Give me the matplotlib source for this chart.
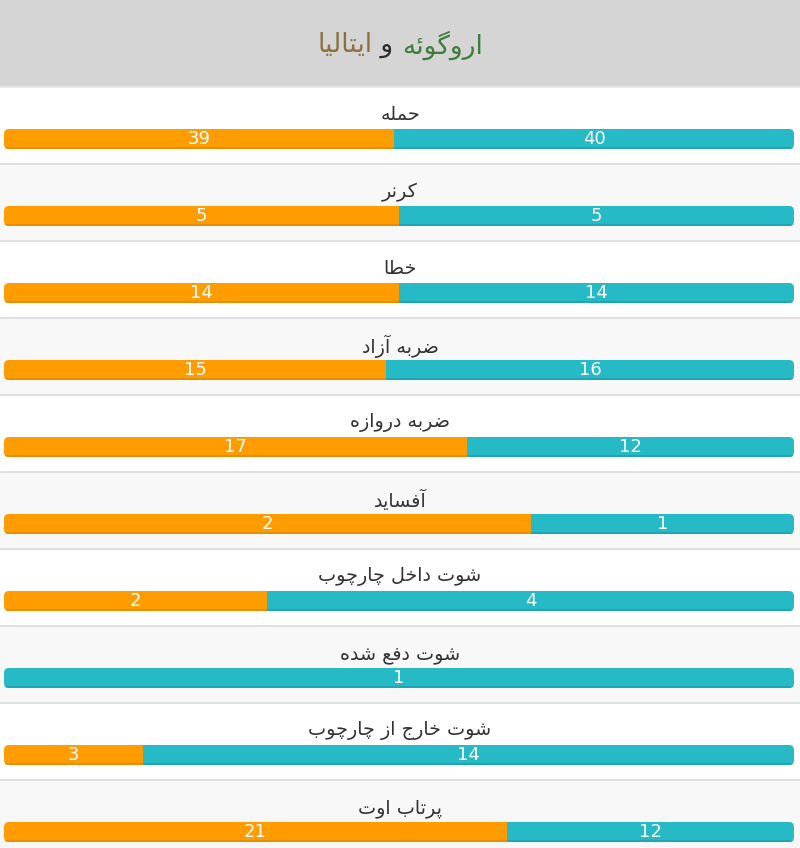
import matplotlib
matplotlib.use("Agg")
import matplotlib.pyplot as plt
from matplotlib.patches import Rectangle, FancyBboxPatch

# team names (title) and stats
team_home = "اروگوئه"
team_away = "ایتالیا"
stat_labels = ["حمله", "کرنر", "خطا", "ضربه آزاد", "ضربه دروازه", "آفساید",
               "شوت داخل چارچوب", "شوت دفع شده", "شوت خارج از چارچوب", "پرتاب اوت"]
home_values = [39, 5, 14, 15, 17, 2, 2, 0, 3, 21]
away_values = [40, 5, 14, 16, 12, 1, 4, 1, 14, 12]

HOME_COLOR = "#ff9d00"
AWAY_COLOR = "#26bac6"

# --- tiny arabic/persian shaper (no arabic_reshaper available) ---
# forms: (isolated, final, initial, medial); two entries = right-joining only
FORMS = {
    "آ": (0xFE81, 0xFE82), "ا": (0xFE8D, 0xFE8E), "د": (0xFEA9, 0xFEAA),
    "ذ": (0xFEAB, 0xFEAC), "ر": (0xFEAD, 0xFEAE), "ز": (0xFEAF, 0xFEB0),
    "و": (0xFEED, 0xFEEE), "ژ": (0xFB8A, 0xFB8B),
    "ئ": (0xFE89, 0xFE8A, 0xFE8B, 0xFE8C), "ب": (0xFE8F, 0xFE90, 0xFE91, 0xFE92),
    "ت": (0xFE95, 0xFE96, 0xFE97, 0xFE98), "ج": (0xFE9D, 0xFE9E, 0xFE9F, 0xFEA0),
    "ح": (0xFEA1, 0xFEA2, 0xFEA3, 0xFEA4), "خ": (0xFEA5, 0xFEA6, 0xFEA7, 0xFEA8),
    "س": (0xFEB1, 0xFEB2, 0xFEB3, 0xFEB4), "ش": (0xFEB5, 0xFEB6, 0xFEB7, 0xFEB8),
    "ض": (0xFEBD, 0xFEBE, 0xFEBF, 0xFEC0), "ط": (0xFEC1, 0xFEC2, 0xFEC3, 0xFEC4),
    "ع": (0xFEC9, 0xFECA, 0xFECB, 0xFECC), "ف": (0xFED1, 0xFED2, 0xFED3, 0xFED4),
    "ل": (0xFEDD, 0xFEDE, 0xFEDF, 0xFEE0), "م": (0xFEE1, 0xFEE2, 0xFEE3, 0xFEE4),
    "ن": (0xFEE5, 0xFEE6, 0xFEE7, 0xFEE8), "ه": (0xFEE9, 0xFEEA, 0xFEEB, 0xFEEC),
    "پ": (0xFB56, 0xFB57, 0xFB58, 0xFB59), "چ": (0xFB7A, 0xFB7B, 0xFB7C, 0xFB7D),
    "ک": (0xFB8E, 0xFB8F, 0xFB90, 0xFB91), "گ": (0xFB92, 0xFB93, 0xFB94, 0xFB95),
    "ی": (0xFBFC, 0xFBFD, 0xFBFE, 0xFBFF),
}


def shape(text):
    out = []
    for i, ch in enumerate(text):
        if ch not in FORMS:
            out.append(ch)
            continue
        prev = text[i - 1] if i > 0 else None
        nxt = text[i + 1] if i + 1 < len(text) else None
        joins_prev = prev in FORMS and len(FORMS[prev]) == 4
        joins_next = len(FORMS[ch]) == 4 and nxt in FORMS
        f = FORMS[ch]
        if joins_prev and joins_next:
            code = f[3]
        elif joins_prev:
            code = f[1]
        elif joins_next:
            code = f[2]
        else:
            code = f[0]
        out.append(chr(code))
    return "".join(out)[::-1]


W, H = 800, 848
fig = plt.figure(figsize=(W / 100, H / 100), dpi=100)
ax = fig.add_axes([0, 0, 1, 1])
ax.set_xlim(0, W)
ax.set_ylim(H, 0)
ax.axis("off")
plt.rcParams["font.family"] = ["DejaVu Sans"]

# header
ax.add_patch(Rectangle((0, 0), W, 86, color="#d5d5d5", lw=0))
ax.add_patch(Rectangle((0, 86), W, 2, color="#e9e9e9", lw=0))

row_h = 77
bar_l, bar_w, bar_h = 4, 790, 20
for i, (lab, hv, av) in enumerate(zip(stat_labels, home_values, away_values)):
    top = 88 + row_h * i
    bg = "#ffffff" if i % 2 == 0 else "#f8f8f8"
    ax.add_patch(Rectangle((0, top), W, 75, color=bg, lw=0))
    ax.add_patch(Rectangle((0, top + 75), W, 2, color="#e0e0e0", lw=0))

    ax.text(W / 2, top + 27, shape(lab), ha="center", va="center",
            fontsize=13.8, color="#333333")

    total = hv + av
    wh = bar_w * hv / total
    wa = bar_w * av / total
    by = top + 51
    clip = FancyBboxPatch((bar_l, by - bar_h / 2), bar_w, bar_h,
                          boxstyle="round,pad=0,rounding_size=5",
                          fc="none", ec="none")
    ax.add_patch(clip)
    bars = ax.barh([by], [wh], left=bar_l, height=bar_h, color=HOME_COLOR, lw=0)
    bars2 = ax.barh([by], [wa], left=bar_l + wh, height=bar_h, color=AWAY_COLOR, lw=0)
    sh1 = ax.barh([by + bar_h / 2 - 1], [wh], left=bar_l, height=2, color="#e88e00", lw=0)
    sh2 = ax.barh([by + bar_h / 2 - 1], [wa], left=bar_l + wh, height=2, color="#1fa6b1", lw=0)
    for b in list(bars) + list(bars2) + list(sh1) + list(sh2):
        b.set_clip_path(clip)

    if hv > 0:
        ax.text(bar_l + wh / 2, by, str(hv), ha="center", va="center",
                fontsize=13, color="white")
    if av > 0:
        ax.text(bar_l + wh + wa / 2, by, str(av), ha="center", va="center",
                fontsize=13, color="white")

# title in three colours, laid out left to right (visual order)
parts = [(shape(team_away), "#8c7040"), (" و ", "#2d2d2d"), (shape(team_home), "#3c7d3c")]
texts = [ax.text(0, 45, s, ha="left", va="center", fontsize=19, color=c) for s, c in parts]
fig.canvas.draw()
r = fig.canvas.get_renderer()
widths = [t.get_window_extent(r).width for t in texts]
x = W / 2 - sum(widths) / 2
for t, w in zip(texts, widths):
    t.set_x(x)
    x += w

fig.savefig("out.png", dpi=100)
